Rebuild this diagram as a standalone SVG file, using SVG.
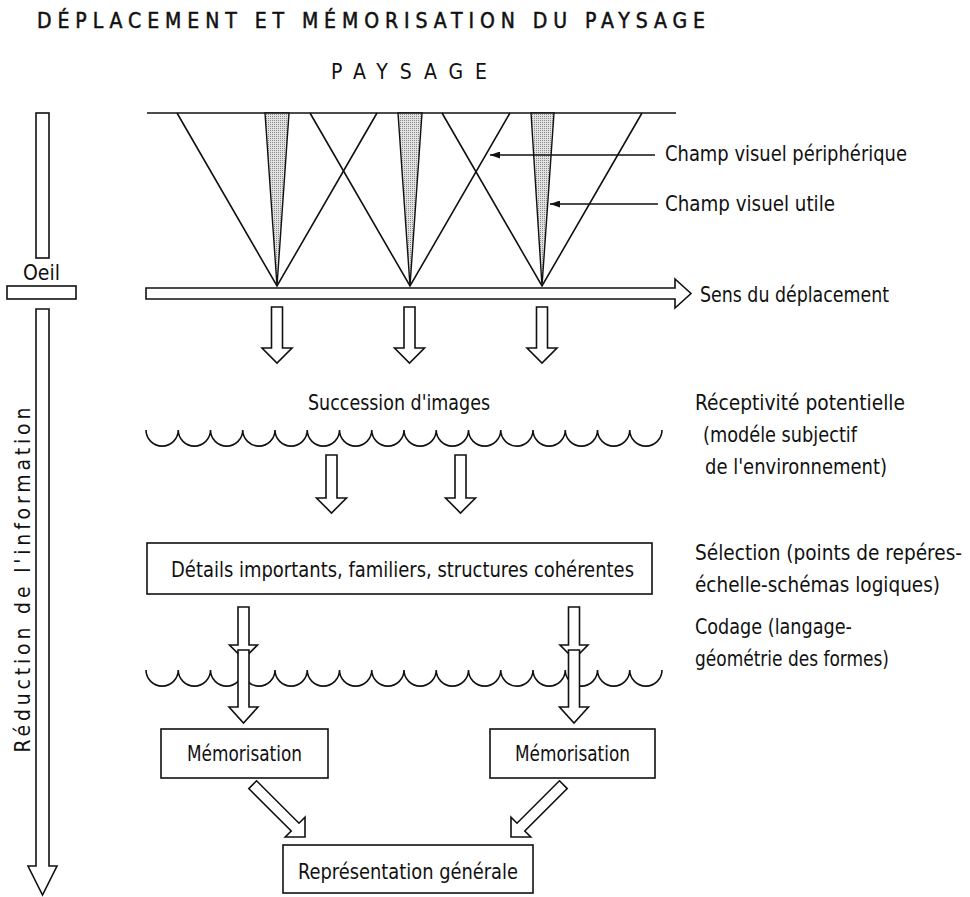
<svg xmlns="http://www.w3.org/2000/svg" width="970" height="897" viewBox="0 0 970 897">
<defs>
<style>
.t{font-family:"Liberation Sans Narrow","DejaVu Sans Condensed","Liberation Sans",sans-serif;font-size:21px;fill:#111}
.ln{fill:none;stroke:#111;stroke-width:1.6}
.blk{fill:#fff;stroke:#111;stroke-width:1.6;stroke-linejoin:miter}
.box{fill:#fff;stroke:#111;stroke-width:1.6}
.cone{fill:url(#stip);stroke:#111;stroke-width:1.4}
</style>
<pattern id="stip" width="2" height="2" patternUnits="userSpaceOnUse"><rect width="2" height="2" fill="#e2e2e2"/><rect width="1" height="1" fill="#8a8a8a"/></pattern>
<marker id="ah" viewBox="0 0 10 7" refX="10" refY="3.5" markerWidth="11" markerHeight="7" markerUnits="userSpaceOnUse" orient="auto"><path d="M0,0 L10,3.5 L0,7 Z" fill="#111"/></marker>
</defs>
<rect width="970" height="897" fill="#fff"/>

<g id="title">
<text class="t" x="37" y="28" font-size="20" stroke="#111" stroke-width="0.5" textLength="668" lengthAdjust="spacing">DÉPLACEMENT ET MÉMORISATION DU PAYSAGE</text>
<text class="t" x="331" y="79" font-size="20" textLength="156" lengthAdjust="spacing">PAYSAGE</text>
</g>

<g id="paysage">
<line class="ln" x1="147" y1="113" x2="676" y2="113"/>
<polyline class="ln" points="177,113 277,286 377,113"/>
<polyline class="ln" points="310,113 410,286 510,113"/>
<polyline class="ln" points="442,113 542,286 642,113"/>
<polygon class="cone" points="265,113 289,113 277,286"/>
<polygon class="cone" points="398,113 422,113 410,286"/>
<polygon class="cone" points="531,113 554,113 542,286"/>
</g>

<g id="oeil">
<rect class="box" x="36" y="113" width="13" height="145"/>
<text class="t" x="23" y="280" font-size="18" textLength="37" lengthAdjust="spacingAndGlyphs">Oeil</text>
<rect class="box" x="7" y="286" width="69" height="13"/>
</g>

<g id="reduction">
<path class="blk" d="M36 309 H49 V866 H57 L42.5 895 L28 866 H36 Z"/>
<text class="t" x="30" y="580" font-size="21" text-anchor="middle" transform="rotate(-90 30 580)" textLength="345" lengthAdjust="spacing">Réduction de l'information</text>
</g>

<g id="deplacement">
<path class="blk" d="M146 288 H675 V279 L691 293.5 L675 308 V299 H146 Z"/>
<text class="t" x="700" y="302" textLength="189" lengthAdjust="spacingAndGlyphs">Sens du déplacement</text>
</g>

<g id="labels-champ">
<text class="t" x="665" y="161" textLength="242" lengthAdjust="spacingAndGlyphs">Champ visuel périphérique</text>
<text class="t" x="665" y="211" textLength="170" lengthAdjust="spacingAndGlyphs">Champ visuel utile</text>
</g>

<g id="succession">
<text class="t" x="308" y="410" textLength="182" lengthAdjust="spacingAndGlyphs">Succession d'images</text>
<path class="ln" d="M146 430 a16.125 16.125 0 0 0 32.25 0 a16.125 16.125 0 0 0 32.25 0 a16.125 16.125 0 0 0 32.25 0 a16.125 16.125 0 0 0 32.25 0 a16.125 16.125 0 0 0 32.25 0 a16.125 16.125 0 0 0 32.25 0 a16.125 16.125 0 0 0 32.25 0 a16.125 16.125 0 0 0 32.25 0 a16.125 16.125 0 0 0 32.25 0 a16.125 16.125 0 0 0 32.25 0 a16.125 16.125 0 0 0 32.25 0 a16.125 16.125 0 0 0 32.25 0 a16.125 16.125 0 0 0 32.25 0 a16.125 16.125 0 0 0 32.25 0 a16.125 16.125 0 0 0 32.25 0 a16.125 16.125 0 0 0 32.25 0"/>
</g>

<g id="receptivite">
<text class="t" x="695" y="410" textLength="210" lengthAdjust="spacingAndGlyphs">Réceptivité potentielle</text>
<text class="t" x="703" y="442" textLength="154" lengthAdjust="spacingAndGlyphs">(modéle subjectif</text>
<text class="t" x="705" y="474" textLength="182" lengthAdjust="spacingAndGlyphs">de l'environnement)</text>
</g>

<g id="details">
<rect class="box" x="147" y="543" width="505" height="51"/>
<text class="t" x="171" y="577" textLength="463" lengthAdjust="spacingAndGlyphs">Détails importants, familiers, structures cohérentes</text>
</g>

<g id="selection">
<text class="t" x="695" y="560" textLength="267" lengthAdjust="spacingAndGlyphs">Sélection (points de repéres-</text>
<text class="t" x="695" y="592" textLength="245" lengthAdjust="spacingAndGlyphs">échelle-schémas logiques)</text>
</g>

<g id="codage">
<text class="t" x="695" y="634" textLength="157" lengthAdjust="spacingAndGlyphs">Codage (langage-</text>
<text class="t" x="695" y="666" textLength="194" lengthAdjust="spacingAndGlyphs">géométrie des formes)</text>
</g>

<g id="connectors">
<line class="ln" x1="655" y1="155" x2="490" y2="155" marker-end="url(#ah)"/>
<line class="ln" x1="658" y1="204" x2="550" y2="204" marker-end="url(#ah)"/>
<path class="blk" d="M271.5 307 H282.5 V348 H292 L277 363 L262 348 H271.5 Z"/>
<path class="blk" d="M404 307 H415 V348 H424.5 L409.5 363 L394.5 348 H404 Z"/>
<path class="blk" d="M536.5 307 H547.5 V348 H557 L542 363 L527 348 H536.5 Z"/>
<path class="blk" d="M326 455 H337 V498 H346.5 L331.5 513 L316.5 498 H326 Z"/>
<path class="blk" d="M455 455 H466 V498 H475.5 L460.5 513 L445.5 498 H455 Z"/>
<path class="blk" d="M238 607 H249 V645 H257.5 L243.5 659 L229.5 645 H238 Z"/>
<path class="blk" d="M568.5 607 H579.5 V645 H588 L574 659 L560 645 H568.5 Z"/>
</g>

<g id="codage-wave">
<path class="ln" d="M146 670 a16.125 16.125 0 0 0 32.25 0 a16.125 16.125 0 0 0 32.25 0 a16.125 16.125 0 0 0 32.25 0 a16.125 16.125 0 0 0 32.25 0 a16.125 16.125 0 0 0 32.25 0 a16.125 16.125 0 0 0 32.25 0 a16.125 16.125 0 0 0 32.25 0 a16.125 16.125 0 0 0 32.25 0 a16.125 16.125 0 0 0 32.25 0 a16.125 16.125 0 0 0 32.25 0 a16.125 16.125 0 0 0 32.25 0 a16.125 16.125 0 0 0 32.25 0 a16.125 16.125 0 0 0 32.25 0 a16.125 16.125 0 0 0 32.25 0 a16.125 16.125 0 0 0 32.25 0 a16.125 16.125 0 0 0 32.25 0"/>
</g>

<g id="connectors-2">
<path class="blk" d="M238 650 H249 V707 H258 L243.5 723 L229 707 H238 Z"/>
<path class="blk" d="M568.5 650 H579.5 V707 H588.5 L574 723 L559.5 707 H568.5 Z"/>
<path class="blk" transform="translate(305 837) rotate(-45)" d="M-5.5 -74 H5.5 V-14 H14 L0 0 L-14 -14 H-5.5 Z"/>
<path class="blk" transform="translate(511 837) rotate(45)" d="M-5.5 -74 H5.5 V-14 H14 L0 0 L-14 -14 H-5.5 Z"/>
</g>

<g id="memorisation-1">
<rect class="box" x="161" y="729" width="167" height="49"/>
<text class="t" x="244.5" y="761" text-anchor="middle" textLength="115" lengthAdjust="spacingAndGlyphs">Mémorisation</text>
</g>

<g id="memorisation-2">
<rect class="box" x="490" y="729" width="165" height="49"/>
<text class="t" x="572.5" y="761" text-anchor="middle" textLength="115" lengthAdjust="spacingAndGlyphs">Mémorisation</text>
</g>

<g id="representation">
<rect class="box" x="283" y="845" width="250" height="48"/>
<text class="t" x="408" y="879" text-anchor="middle" textLength="220" lengthAdjust="spacingAndGlyphs">Représentation générale</text>
</g>
</svg>
